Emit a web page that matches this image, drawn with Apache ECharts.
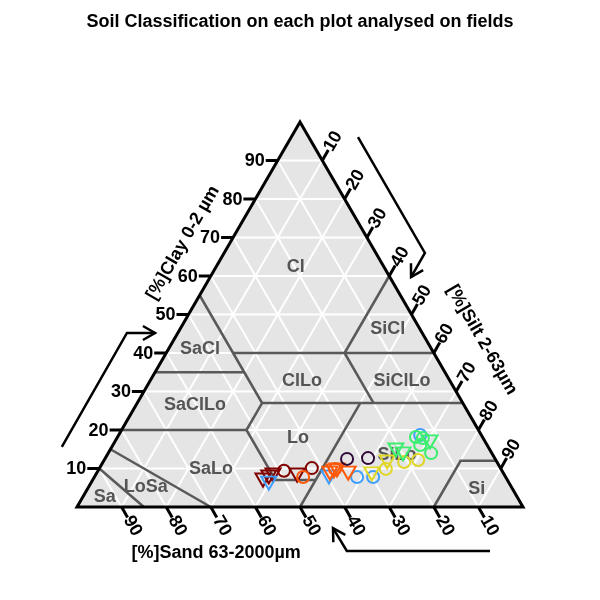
<!DOCTYPE html>
<html><head><meta charset="utf-8">
<script src="https://cdn.jsdelivr.net/npm/echarts@6/dist/echarts.min.js"></script>
<style>html,body{margin:0;padding:0;background:#fff}#c{width:600px;height:600px}</style>
</head><body><div id="c"></div>
<script>
// ---------- DATA ----------
const TICKS = [10, 20, 30, 40, 50, 60, 70, 80, 90];
const TITLE = 'Soil Classification on each plot analysed on fields';
const CLAY_TITLE = '[%]Clay 0-2 µm';
const SILT_TITLE = '[%]Silt 2-63µm';
const SAND_TITLE = '[%]Sand 63-2000µm';

// texture class labels and positions [clay, silt]
const CLASS_NAMES = ['Cl', 'SiCl', 'SaCl', 'ClLo', 'SiClLo', 'SaClLo', 'Lo', 'SiLo', 'SaLo', 'LoSa', 'Sa', 'Si'];
const CLASS_LABEL_CLAY = [62.3, 46.2, 41.0, 32.7, 32.7, 26.5, 17.9, 13.5, 9.9, 5.2, 2.6, 4.7];
const CLASS_LABEL_SILT = [17.9, 46.6, 7.1, 34.1, 56.5, 13.2, 40.6, 65.0, 25.1, 12.8, 4.9, 87.3];

// class boundaries, polylines of [clay, silt]
const BOUNDARIES = [
  [[10, 0], [0, 15]],
  [[15, 0], [0, 30]],
  [[20, 0], [20, 28]],
  [[20, 28], [7, 41], [7, 50]],
  [[27, 50], [0, 50]],
  [[20, 28], [27, 28], [35, 20], [55, 0]],
  [[35, 0], [35, 20]],
  [[27, 28], [27, 73]],
  [[40, 15], [40, 60]],
  [[40, 40], [60, 40]],
  [[40, 40], [27, 53]],
  [[0, 80], [12, 80], [12, 88]]
];

// samples [clay, silt, sand] (%)
const DARKRED_TRI = [[7.0, 38.2, 54.8], [7.8, 39.1, 53.1], [8.3, 39.8, 51.9], [8.3, 45.2, 46.5]];
const DARKRED_CIR = [[9.4, 41.7, 48.9], [10.1, 47.6, 42.3]];
const ORANGE_TRI = [[8.8, 52.3, 38.9], [9.4, 52.9, 37.7], [9.6, 53.5, 36.9], [8.8, 56.4, 34.8]];
const ORANGE_CIR = [[7.8, 46.8, 45.4], [9.9, 52.9, 37.2]];
const BLUE_TRI = [[6.2, 39.9, 53.9], [7.8, 52.6, 39.6]];
const BLUE_CIR = [[7.8, 58.9, 33.3], [7.8, 62.5, 29.7], [18.7, 67.6, 13.7]];
const PURPLE_CIR = [[12.5, 54.3, 33.2], [12.7, 58.9, 28.4]];
const YELLOW_TRI = [[8.6, 61.8, 29.6], [11.7, 63.7, 24.6]];
const YELLOW_CIR = [[9.9, 64.3, 25.8], [11.7, 67.5, 20.8], [12.2, 70.4, 17.4]];
const GREEN_TRI = [[14.8, 64.1, 21.1], [13.8, 66.2, 20.0], [16.9, 70.7, 12.4]];
const GREEN_CIR = [[18.2, 66.9, 14.9], [17.9, 68.6, 13.5], [16.1, 68.9, 15.0], [14.0, 72.4, 13.6]];

// direction arrows in plot coordinates [x, y]
const ARROWS = [
  [[-3.4, 15.6], [11.2, 45.2], [17.5, 45.2]],
  [[63.0, 96.1], [78.0, 66.0], [74.9, 59.7]],
  [[92.6, -11.4], [60.5, -11.4], [57.4, -5.5]]
];
// axis title positions in plot coordinates
const TITLE_POS = { clay: [23.8, 68.6], silt: [90.8, 43.4], sand: [31.2, -12.0] };

// ---------- HELPERS ----------
const FONT = '"Liberation Sans", Arial, Helvetica, sans-serif';
function tern(clay, silt) { return [silt + clay / 2, clay]; }

const chart = echarts.init(document.getElementById('c'), null, { renderer: 'canvas' });

function customGroup(z, build) {
  return {
    type: 'custom', coordinateSystem: 'cartesian2d', silent: true, z: z, clip: false,
    data: [[0, 0]],
    renderItem: function (params, api) {
      return { type: 'group', children: build(api) };
    }
  };
}
function pts(api, list) { return list.map(p => api.coord(p)); }

const bgSeries = customGroup(1, api => [{
  type: 'polygon', shape: { points: pts(api, [tern(0, 0), tern(0, 100), tern(100, 0)]) },
  style: { fill: '#e5e5e5', stroke: 'none' }
}]);

const gridSeries = customGroup(2, api => {
  const out = [];
  TICKS.forEach(k => {
    const lines = [
      [tern(k, 0), tern(k, 100 - k)],
      [tern(0, k), tern(100 - k, k)],
      [tern(0, 100 - k), tern(100 - k, 0)]
    ];
    lines.forEach(l => out.push({
      type: 'polyline', shape: { points: pts(api, l) },
      style: { stroke: '#ffffff', lineWidth: 2, fill: 'none' }
    }));
  });
  return out;
});

const boundarySeries = customGroup(3, api => BOUNDARIES.map(b => ({
  type: 'polyline', shape: { points: pts(api, b.map(p => tern(p[0], p[1]))) },
  style: { stroke: '#595959', lineWidth: 2.5, fill: 'none', lineJoin: 'miter' }
})));

const classLabelSeries = customGroup(4, api => CLASS_NAMES.map((n, i) => {
  const c = api.coord(tern(CLASS_LABEL_CLAY[i], CLASS_LABEL_SILT[i]));
  return {
    type: 'text', x: c[0], y: c[1],
    style: { text: n, fill: '#555555', font: 'bold 18px ' + FONT, align: 'center', verticalAlign: 'middle' }
  };
}));

const borderSeries = customGroup(5, api => {
  const out = [{
    type: 'polygon', shape: { points: pts(api, [tern(0, 0), tern(0, 100), tern(100, 0)]) },
    style: { fill: 'none', stroke: '#000', lineWidth: 3, lineJoin: 'miter' }
  }];
  const L = 12, LD = 22;
  const s3 = Math.sqrt(3) / 2;
  const tf = 'bold 18px ' + FONT;
  TICKS.forEach(k => {
    // clay ticks (left edge), horizontal to the left
    let p = api.coord(tern(k, 0));
    out.push({ type: 'line', shape: { x1: p[0], y1: p[1], x2: p[0] - L, y2: p[1] }, style: { stroke: '#000', lineWidth: 3 } });
    out.push({ type: 'text', x: p[0] - L - 1, y: p[1] + 1, style: { text: String(k), fill: '#000', font: tf, align: 'right', verticalAlign: 'middle' } });
    // silt ticks (right edge), up-right
    p = api.coord(tern(100 - k, k));
    out.push({ type: 'line', shape: { x1: p[0], y1: p[1], x2: p[0] + L * 0.5, y2: p[1] - L * s3 }, style: { stroke: '#000', lineWidth: 3 } });
    out.push({ type: 'text', x: p[0] + LD * 0.5, y: p[1] - LD * s3, rotation: Math.PI / 3, style: { text: String(k), fill: '#000', font: tf, align: 'center', verticalAlign: 'middle' } });
    // sand ticks (bottom edge), down-right
    p = api.coord(tern(0, 100 - k));
    out.push({ type: 'line', shape: { x1: p[0], y1: p[1], x2: p[0] + L * 0.5, y2: p[1] + L * s3 }, style: { stroke: '#000', lineWidth: 3 } });
    out.push({ type: 'text', x: p[0] + LD * 0.5, y: p[1] + LD * s3, rotation: -Math.PI / 3, style: { text: String(k), fill: '#000', font: tf, align: 'center', verticalAlign: 'middle' } });
  });
  // axis titles
  let c = api.coord(TITLE_POS.clay);
  out.push({ type: 'text', x: c[0], y: c[1], rotation: Math.PI / 3, style: { text: CLAY_TITLE, fill: '#000', font: tf, align: 'center', verticalAlign: 'middle' } });
  c = api.coord(TITLE_POS.silt);
  out.push({ type: 'text', x: c[0], y: c[1], rotation: -Math.PI / 3, style: { text: SILT_TITLE, fill: '#000', font: tf, align: 'center', verticalAlign: 'middle' } });
  c = api.coord(TITLE_POS.sand);
  out.push({ type: 'text', x: c[0], y: c[1], style: { text: SAND_TITLE, fill: '#000', font: tf, align: 'center', verticalAlign: 'middle' } });
  // arrows
  ARROWS.forEach(a => {
    const q = pts(api, a);
    out.push({ type: 'polyline', shape: { points: q }, style: { stroke: '#000', lineWidth: 2.5, fill: 'none' } });
    const t = q[q.length - 1], f = q[q.length - 2];
    const ang = Math.atan2(t[1] - f[1], t[0] - f[0]);
    const hl = 14, ha = Math.PI / 6;
    out.push({ type: 'polyline', shape: { points: [
      [t[0] - hl * Math.cos(ang - ha), t[1] - hl * Math.sin(ang - ha)], t,
      [t[0] - hl * Math.cos(ang + ha), t[1] - hl * Math.sin(ang + ha)]] },
      style: { stroke: '#000', lineWidth: 2.5, fill: 'none' } });
  });
  return out;
});

function scat(list, color, tri) {
  return {
    type: 'scatter', z: 10, silent: true,
    data: list.map(p => tern(p[0], p[1])),
    symbol: tri ? 'triangle' : 'circle',
    symbolRotate: tri ? 180 : 0,
    symbolSize: tri ? [15, 13] : 12,
    itemStyle: { color: 'rgba(0,0,0,0)', borderColor: color, borderWidth: 2, opacity: 1 }
  };
}

const option = {
  animation: false,
  backgroundColor: '#ffffff',
  title: { text: TITLE, left: 'center', top: 13, padding: 0,
    textStyle: { fontSize: 18, fontWeight: 'bold', color: '#000', fontFamily: FONT } },
  grid: { left: 77, top: 122, width: 446, height: 385, show: false },
  xAxis: { type: 'value', min: 0, max: 100, show: false },
  yAxis: { type: 'value', min: 0, max: 100, show: false },
  series: [
    bgSeries, gridSeries, boundarySeries, classLabelSeries, borderSeries,
    scat(DARKRED_TRI, '#800000', true),
    scat(DARKRED_CIR, '#800000', false),
    scat(BLUE_TRI, '#3f9fff', true),
    scat(BLUE_CIR, '#3f9fff', false),
    scat(ORANGE_TRI, '#ff5a0a', true),
    scat(ORANGE_CIR, '#ff5a0a', false),
    scat(PURPLE_CIR, '#300a38', false),
    scat(YELLOW_TRI, '#e0d625', true),
    scat(YELLOW_CIR, '#e0d625', false),
    scat(GREEN_TRI, '#3cee6e', true),
    scat(GREEN_CIR, '#3cee6e', false)
  ]
};
chart.setOption(option);
</script>
</body></html>
